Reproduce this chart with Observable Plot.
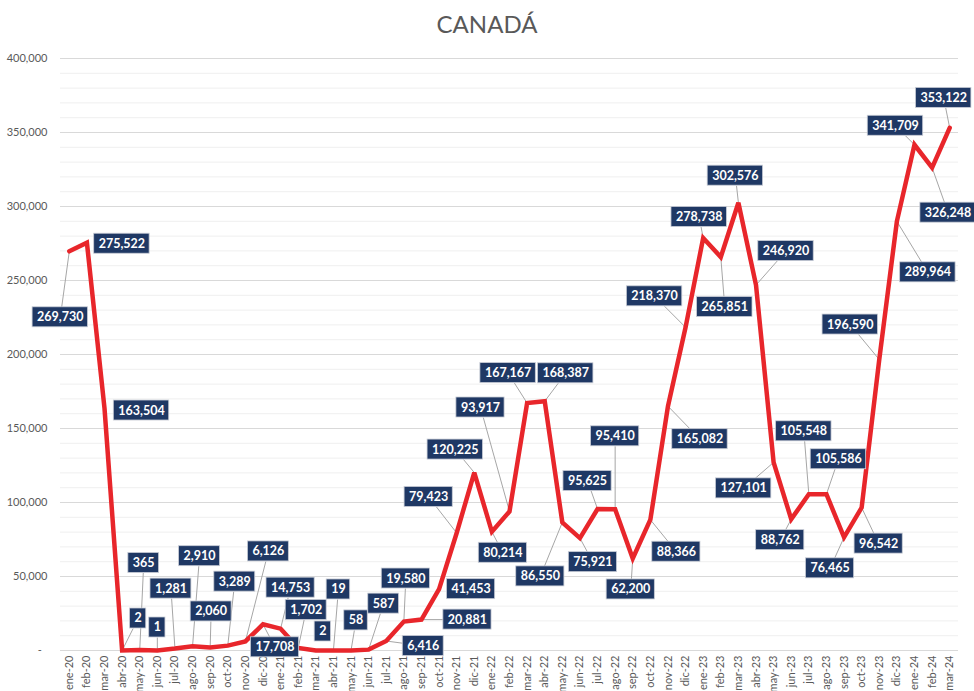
<!DOCTYPE html>
<html><head><meta charset="utf-8">
<script src="https://cdn.jsdelivr.net/npm/d3@7"></script>
<script src="https://cdn.jsdelivr.net/npm/@observablehq/plot@0.6"></script>
<style>
body{margin:0;background:#fff;}
#wrap{position:relative;width:974px;height:691px;}
#title{position:absolute;left:0;top:12px;width:974px;text-align:center;font:24px Lato, sans-serif;color:#595959;line-height:24px;z-index:2;}
</style></head><body>
<div id="wrap"><div id="chart"></div><div id="title">CANADÁ</div></div>
<script>
const months = ["ene-20","feb-20","mar-20","abr-20","may-20","jun-20","jul-20","ago-20","sep-20","oct-20","nov-20","dic-20",
"ene-21","feb-21","mar-21","abr-21","may-21","jun-21","jul-21","ago-21","sep-21","oct-21","nov-21","dic-21",
"ene-22","feb-22","mar-22","abr-22","may-22","jun-22","jul-22","ago-22","sep-22","oct-22","nov-22","dic-22",
"ene-23","feb-23","mar-23","abr-23","may-23","jun-23","jul-23","ago-23","sep-23","oct-23","nov-23","dic-23",
"ene-24","feb-24","mar-24"];
const values = [269730,275522,163504,2,365,1,1281,2910,2060,3289,6126,17708,
14753,1702,2,19,58,587,6416,19580,20881,41453,79423,120225,
80214,93917,167167,168387,86550,75921,95625,95410,62200,88366,165082,218370,
278738,265851,302576,246920,127101,88762,105548,105586,76465,96542,196590,289964,
341709,326248,353122];
const yTicks = [0,50000,100000,150000,200000,250000,300000,350000,400000];

// label placement (pixel offsets of each label box centre from its point)
const labelDx = [-9,35,37,16,4,0,-4,7,1,7,23,12,10,8,7,5,5,15,37,2,46,32,-28,-19,11,-29,-19,21,-22,13,-10,0,-2,26,32,-31,-4,4,-3,30,-30,-11,-5,12,-14,17,-29,31,-19,16,-6];
const labelDy = [66,1,2,-32,-87,-23,-60,-90,-36,-64,-90,23,-41,-38,-19,-61,-30,-46,5,-43,0,0,-36,-23,21,-104,-30,-28,54,24,-28,-73,31,32,33,-31,-21,50,-27,-34,26,21,-63,-35,31,36,-35,51,-19,45,-30];

const W = 974, H = 691, mL = 60, mR = 16, mT = 58, mB = 41;
const pxI = (W - mL - mR) / 51;
const pxV = (H - mT - mB) / 400000;
const fmt = d3.format(",");

const ctx = document.createElement("canvas").getContext("2d");
ctx.font = "bold 12.5px Lato";

const rows = values.map((v, i) => {
  const label = fmt(v);
  const hw = (ctx.measureText(label).width + 9) / 2, hh = 10;
  const dx = labelDx[i], dy = labelDy[i];
  const t = Math.min(dx ? hw / Math.abs(dx) : Infinity, dy ? hh / Math.abs(dy) : Infinity);
  const len = (1 - t) * Math.hypot(dx, dy);
  return {
    i, v, label,
    cx: i + dx / pxI, cy: v - dy / pxV,
    bx1: i + (dx - hw) / pxI, bx2: i + (dx + hw) / pxI,
    by1: v - (dy - hh) / pxV, by2: v - (dy + hh) / pxV,
    lead: t < 1 && len > 10,
    ex: i + dx * (1 - t) / pxI, ey: v - dy * (1 - t) / pxV
  };
});
const minor = d3.range(0, 400001, 10000).filter(d => d % 50000 !== 0);

const plot = Plot.plot({
  width: W, height: H,
  marginLeft: mL, marginRight: mR, marginTop: mT, marginBottom: mB,
  style: {fontFamily: "Lato, sans-serif", fontSize: "11px", background: "transparent"},
  x: {domain: [-0.5, 50.5]},
  y: {domain: [0, 400000]},
  marks: [
    Plot.ruleY(minor, {stroke: "#efefef", strokeWidth: 1}),
    Plot.ruleY(yTicks, {stroke: "#d9d9d9", strokeWidth: 1}),
    Plot.axisY(yTicks, {tickFormat: d => d === 0 ? "-\u00a0\u00a0" : fmt(d), tickSize: 0, tickPadding: 13, fontSize: 11, color: "#595959", label: null}),
    Plot.axisX(d3.range(51), {tickFormat: i => months[i], tickRotate: -90, tickSize: 0, tickPadding: 5, fontSize: 11, color: "#595959", label: null}),
    Plot.link(rows.filter(d => d.lead), {x1: "i", y1: "v", x2: "ex", y2: "ey", stroke: "#a6a6a6", strokeWidth: 1}),
    Plot.line(rows, {x: "i", y: "v", stroke: "#000", strokeOpacity: 0.3, strokeWidth: 5, dx: 2, dy: 3, ariaLabel: "shadow"}),
    Plot.line(rows, {x: "i", y: "v", stroke: "#E8262B", strokeWidth: 4.5, strokeLinejoin: "miter", strokeMiterlimit: 3}),
    Plot.rect(rows, {x1: "bx1", x2: "bx2", y1: "by1", y2: "by2", fill: "#1F3864", stroke: "#c9cdd6", strokeWidth: 0.8}),
    Plot.text(rows, {x: "cx", y: "cy", text: "label", fill: "white", fontWeight: "bold", fontSize: 12.5})
  ]
});
document.getElementById("chart").appendChild(plot);
plot.querySelectorAll('[aria-label="shadow"] path').forEach(p => p.style.filter = "blur(1.5px)");
</script>
</body></html>
